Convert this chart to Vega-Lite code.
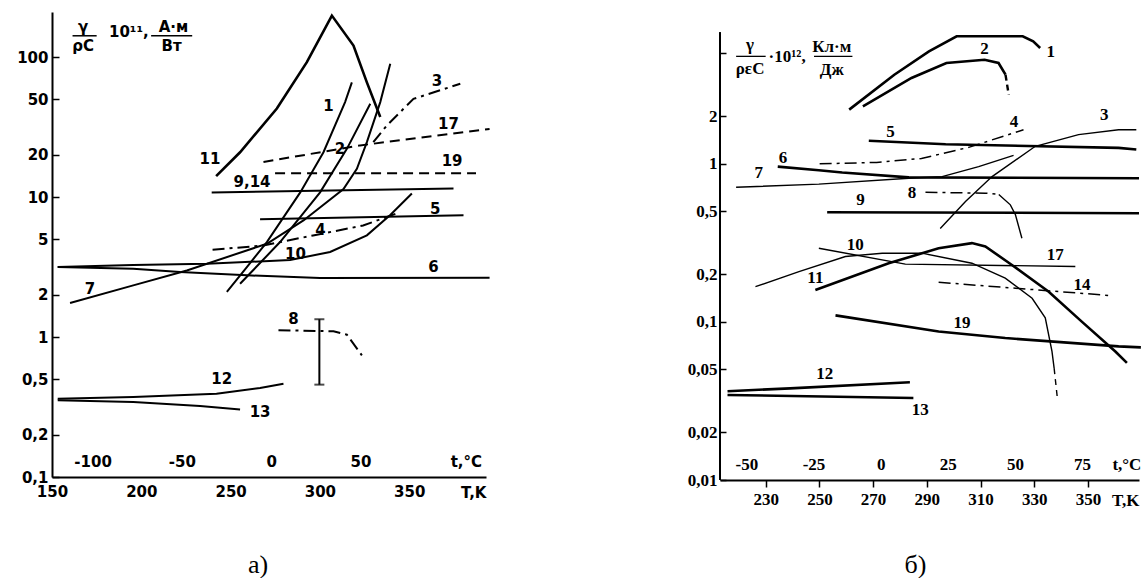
{
  "$schema": "https://vega.github.io/schema/vega-lite/v6.json",
  "background": "white",
  "padding": {"left": 16, "top": 10, "right": 0, "bottom": 0},
  "spacing": 193,
  "config": {
    "view": {"stroke": null},
    "axis": {"domainColor": "black", "tickColor": "black", "labelColor": "black", "titleColor": "black", "grid": false, "domainWidth": 2, "tickWidth": 1.5, "labelOverlap": false, "labelFlush": false}
  },
  "datasets": {
    "a": [
      {"c": "1", "T": 247.9, "v": 2.1}, {"c": "1", "T": 259.1, "v": 3.16}, {"c": "1", "T": 270.3, "v": 4.77}, {"c": "1", "T": 289, "v": 10.8}, {"c": "1", "T": 302, "v": 20.9}, {"c": "1", "T": 314.1, "v": 47.7}, {"c": "1", "T": 317.9, "v": 66},
      {"c": "2", "T": 255.3, "v": 2.4}, {"c": "2", "T": 277.7, "v": 4.77}, {"c": "2", "T": 300.1, "v": 10.8}, {"c": "2", "T": 315.1, "v": 22.1}, {"c": "2", "T": 328.2, "v": 46.4},
      {"c": "3", "T": 329.9, "v": 24.7}, {"c": "3", "T": 337.5, "v": 32.5}, {"c": "3", "T": 352.4, "v": 50.3}, {"c": "3", "T": 378.6, "v": 64.5},
      {"c": "4", "T": 239.9, "v": 4.2}, {"c": "4", "T": 268.4, "v": 4.51}, {"c": "4", "T": 296.2, "v": 5.32}, {"c": "4", "T": 324.2, "v": 6.26}, {"c": "4", "T": 344.9, "v": 7.8},
      {"c": "5", "T": 266.5, "v": 6.93}, {"c": "5", "T": 380.4, "v": 7.41},
      {"c": "6", "T": 153.2, "v": 3.16}, {"c": "6", "T": 195.5, "v": 3.08}, {"c": "6", "T": 221.7, "v": 2.91}, {"c": "6", "T": 259.1, "v": 2.76}, {"c": "6", "T": 300.1, "v": 2.64}, {"c": "6", "T": 395, "v": 2.65},
      {"c": "7", "T": 160.1, "v": 1.75}, {"c": "7", "T": 195.5, "v": 2.34}, {"c": "7", "T": 225.5, "v": 2.99}, {"c": "7", "T": 270.3, "v": 4.64}, {"c": "7", "T": 290.8, "v": 6.81}, {"c": "7", "T": 313.2, "v": 11.4}, {"c": "7", "T": 320.7, "v": 15.9}, {"c": "7", "T": 326.3, "v": 24.7}, {"c": "7", "T": 333.8, "v": 47.7}, {"c": "7", "T": 339.4, "v": 89.5},
      {"c": "8", "T": 276.8, "v": 1.12}, {"c": "8", "T": 307.6, "v": 1.1}, {"c": "8", "T": 315.1, "v": 1.04}, {"c": "8", "T": 323.5, "v": 0.74},
      {"c": "9,14", "T": 239.4, "v": 10.8}, {"c": "9,14", "T": 374.8, "v": 11.5},
      {"c": "10", "T": 153.2, "v": 3.16}, {"c": "10", "T": 195.4, "v": 3.27}, {"c": "10", "T": 236.7, "v": 3.34}, {"c": "10", "T": 283.3, "v": 3.55}, {"c": "10", "T": 305.7, "v": 4.05}, {"c": "10", "T": 326.3, "v": 5.33}, {"c": "10", "T": 339.4, "v": 7.44}, {"c": "10", "T": 351.5, "v": 10.6},
      {"c": "11", "T": 241.9, "v": 14.1}, {"c": "11", "T": 255.3, "v": 20.9}, {"c": "11", "T": 275.9, "v": 42.9}, {"c": "11", "T": 292.7, "v": 92}, {"c": "11", "T": 306.7, "v": 198}, {"c": "11", "T": 318.8, "v": 121}, {"c": "11", "T": 326.3, "v": 66}, {"c": "11", "T": 333.8, "v": 37.3},
      {"c": "12", "T": 153.2, "v": 0.363}, {"c": "12", "T": 195.5, "v": 0.373}, {"c": "12", "T": 242.1, "v": 0.394}, {"c": "12", "T": 266.5, "v": 0.432}, {"c": "12", "T": 279.6, "v": 0.464},
      {"c": "13", "T": 153.2, "v": 0.353}, {"c": "13", "T": 195.5, "v": 0.343}, {"c": "13", "T": 232.9, "v": 0.321}, {"c": "13", "T": 255.3, "v": 0.304},
      {"c": "17", "T": 268.4, "v": 17.8}, {"c": "17", "T": 322.5, "v": 23.4}, {"c": "17", "T": 395, "v": 30.7},
      {"c": "19", "T": 274.9, "v": 14.8}, {"c": "19", "T": 387.4, "v": 14.8}
    ],
    "eb": [{"T": 299.7, "v": 0.457}, {"T": 299.7, "v": 1.34}],
    "ca": [{"T": 173}, {"T": 223}, {"T": 273}, {"T": 323}],
    "la": [
      {"T": 304.8, "v": 45, "text": "1"}, {"T": 311.3, "v": 22, "text": "2"}, {"T": 365.5, "v": 68, "text": "3"}, {"T": 372, "v": 33.4, "text": "17"}, {"T": 374, "v": 18, "text": "19"}, {"T": 262, "v": 12.8, "text": "9,14"}, {"T": 364.6, "v": 8.27, "text": "5"}, {"T": 300.3, "v": 5.78, "text": "4"}, {"T": 286.3, "v": 3.93, "text": "10"}, {"T": 363.6, "v": 3.16, "text": "6"}, {"T": 171.3, "v": 2.21, "text": "7"}, {"T": 285.2, "v": 1.34, "text": "8"}, {"T": 238.5, "v": 18.7, "text": "11"}, {"T": 245, "v": 0.504, "text": "12"}, {"T": 266.5, "v": 0.29, "text": "13"},
      {"T": 167.4, "v": 164, "text": "γ"}, {"T": 167.4, "v": 121, "text": "ρC"}, {"T": 193, "v": 150, "text": "10¹¹,"}, {"T": 218, "v": 164, "text": "А·м"}, {"T": 217, "v": 121, "text": "Вт"},
      {"T": 173, "v": 0.128, "text": "-100"}, {"T": 223, "v": 0.128, "text": "-50"}, {"T": 273, "v": 0.128, "text": "0"}, {"T": 323, "v": 0.128, "text": "50"}, {"T": 382, "v": 0.128, "text": "t,°C"}
    ],
    "ba": [{"T": 161.5, "T2": 175, "v": 142}, {"T": 205.5, "T2": 228.5, "v": 142}],
    "b": [
      {"c": "1", "T": 261.1, "v": 2.2}, {"c": "1", "T": 277.9, "v": 3.66}, {"c": "1", "T": 290.8, "v": 5.14}, {"c": "1", "T": 301.1, "v": 6.4}, {"c": "1", "T": 325.7, "v": 6.4}, {"c": "1", "T": 329.6, "v": 5.95}, {"c": "1", "T": 332.2, "v": 5.4},
      {"c": "2", "T": 266.2, "v": 2.31}, {"c": "2", "T": 284.3, "v": 3.49}, {"c": "2", "T": 297.3, "v": 4.34}, {"c": "2", "T": 311.5, "v": 4.55}, {"c": "2", "T": 316.7, "v": 4.34}, {"c": "2", "T": 319.3, "v": 3.66}, {"c": "2", "T": 320.5, "v": 2.73},
      {"c": "3", "T": 295, "v": 0.39}, {"c": "3", "T": 304.4, "v": 0.577}, {"c": "3", "T": 314.3, "v": 0.83}, {"c": "3", "T": 330.4, "v": 1.29}, {"c": "3", "T": 346.5, "v": 1.53}, {"c": "3", "T": 361.4, "v": 1.64}, {"c": "3", "T": 368, "v": 1.64},
      {"c": "4", "T": 250.1, "v": 1.0}, {"c": "4", "T": 271.3, "v": 1.02}, {"c": "4", "T": 288, "v": 1.08}, {"c": "4", "T": 305.6, "v": 1.27}, {"c": "4", "T": 326, "v": 1.64},
      {"c": "5", "T": 268.4, "v": 1.4}, {"c": "5", "T": 297, "v": 1.33}, {"c": "5", "T": 361.4, "v": 1.26}, {"c": "5", "T": 368, "v": 1.23},
      {"c": "6", "T": 234.5, "v": 0.96}, {"c": "6", "T": 249.8, "v": 0.91}, {"c": "6", "T": 258.5, "v": 0.88}, {"c": "6", "T": 283.3, "v": 0.82}, {"c": "6", "T": 369, "v": 0.81},
      {"c": "7", "T": 219, "v": 0.71}, {"c": "7", "T": 249.8, "v": 0.744}, {"c": "7", "T": 283.3, "v": 0.81}, {"c": "7", "T": 295.7, "v": 0.83}, {"c": "7", "T": 309.3, "v": 0.96}, {"c": "7", "T": 322.3, "v": 1.13},
      {"c": "8", "T": 289.5, "v": 0.66}, {"c": "8", "T": 311.8, "v": 0.652}, {"c": "8", "T": 316.8, "v": 0.64}, {"c": "8", "T": 321.1, "v": 0.55}, {"c": "8", "T": 323, "v": 0.476}, {"c": "8", "T": 325.4, "v": 0.338},
      {"c": "9", "T": 252.9, "v": 0.494}, {"c": "9", "T": 369, "v": 0.487},
      {"c": "10", "T": 226.2, "v": 0.167}, {"c": "10", "T": 242.4, "v": 0.208}, {"c": "10", "T": 259.7, "v": 0.259}, {"c": "10", "T": 273.4, "v": 0.272}, {"c": "10", "T": 288.2, "v": 0.272}, {"c": "10", "T": 306.8, "v": 0.235}, {"c": "10", "T": 319.2, "v": 0.189}, {"c": "10", "T": 329.2, "v": 0.141}, {"c": "10", "T": 334.1, "v": 0.106}, {"c": "10", "T": 336.6, "v": 0.065}, {"c": "10", "T": 337.4, "v": 0.051}, {"c": "10", "T": 338.6, "v": 0.033},
      {"c": "11", "T": 248.5, "v": 0.159}, {"c": "11", "T": 275.8, "v": 0.235}, {"c": "11", "T": 294.4, "v": 0.292}, {"c": "11", "T": 306.8, "v": 0.315}, {"c": "11", "T": 311.8, "v": 0.3}, {"c": "11", "T": 321.7, "v": 0.229}, {"c": "11", "T": 335.4, "v": 0.155}, {"c": "11", "T": 347.8, "v": 0.1}, {"c": "11", "T": 360.2, "v": 0.065}, {"c": "11", "T": 364.5, "v": 0.055},
      {"c": "12", "T": 215.8, "v": 0.0364}, {"c": "12", "T": 239.1, "v": 0.038}, {"c": "12", "T": 283.7, "v": 0.0415},
      {"c": "13", "T": 215.8, "v": 0.0345}, {"c": "13", "T": 285, "v": 0.033},
      {"c": "14", "T": 294.4, "v": 0.178}, {"c": "14", "T": 357.7, "v": 0.147},
      {"c": "17", "T": 249.8, "v": 0.292}, {"c": "17", "T": 282, "v": 0.232}, {"c": "17", "T": 345.3, "v": 0.224},
      {"c": "19", "T": 256, "v": 0.11}, {"c": "19", "T": 294.4, "v": 0.087}, {"c": "19", "T": 319.2, "v": 0.079}, {"c": "19", "T": 361.4, "v": 0.07}, {"c": "19", "T": 369.7, "v": 0.069}
    ],
    "cb": [{"T": 223}, {"T": 248}, {"T": 273}, {"T": 298}, {"T": 323}, {"T": 348}],
    "lb": [
      {"T": 336.1, "v": 5.1, "text": "1"}, {"T": 311.5, "v": 5.3, "text": "2"}, {"T": 356.1, "v": 2.04, "text": "3"}, {"T": 322.5, "v": 1.85, "text": "4"}, {"T": 276.5, "v": 1.6, "text": "5"}, {"T": 236.5, "v": 1.09, "text": "6"}, {"T": 227.4, "v": 0.87, "text": "7"}, {"T": 284.5, "v": 0.65, "text": "8"}, {"T": 265.3, "v": 0.59, "text": "9"}, {"T": 263.4, "v": 0.307, "text": "10"}, {"T": 248.5, "v": 0.189, "text": "11"}, {"T": 337.8, "v": 0.266, "text": "17"}, {"T": 347.8, "v": 0.171, "text": "14"}, {"T": 303.1, "v": 0.098, "text": "19"}, {"T": 252, "v": 0.0465, "text": "12"}, {"T": 287.6, "v": 0.0277, "text": "13"},
      {"T": 224.2, "v": 5.6, "text": "γ"}, {"T": 224.2, "v": 4.0, "text": "ρεC"}, {"T": 238, "v": 4.75, "text": "·10¹²,"}, {"T": 254.6, "v": 5.5, "text": "Кл·м"}, {"T": 254.6, "v": 3.94, "text": "Дж"},
      {"T": 223, "v": 0.0124, "text": "-50"}, {"T": 248, "v": 0.0124, "text": "-25"}, {"T": 273, "v": 0.0124, "text": "0"}, {"T": 298, "v": 0.0124, "text": "25"}, {"T": 323, "v": 0.0124, "text": "50"}, {"T": 348, "v": 0.0124, "text": "75"}, {"T": 364.5, "v": 0.0124, "text": "t,°C"}
    ],
    "bb": [{"T": 219, "T2": 230, "v": 4.78}, {"T": 248, "T2": 262.3, "v": 4.78}]
  },
  "hconcat": [
    {
      "width": 434,
      "height": 465,
      "title": {"text": "а)", "orient": "bottom", "frame": "group", "dx": -11, "offset": 52, "font": "Liberation Serif", "fontSize": 26, "fontWeight": "normal", "color": "black"},
      "encoding": {
        "x": {"field": "T", "type": "quantitative", "scale": {"domain": [150, 393], "nice": false, "zero": false},
          "axis": {"values": [150, 200, 250, 300, 350], "ticks": false, "labelPadding": 7, "labelFont": "DejaVu Sans", "labelFontWeight": "bold", "labelFontSize": 15, "title": "T,K", "titleX": 434, "titleY": 15, "titleAlign": "right", "titleBaseline": "middle", "titleFont": "DejaVu Sans", "titleFontWeight": "bold", "titleFontSize": 15}},
        "y": {"field": "v", "type": "quantitative", "scale": {"type": "log", "domain": [0.1, 210], "nice": false},
          "axis": {"values": [0.1, 0.2, 0.5, 1, 2, 5, 10, 20, 50, 100], "labelExpr": "replace(toString(datum.value), '.', ',')", "title": null, "tickSize": -7, "labelPadding": 11, "labelFont": "DejaVu Sans", "labelFontWeight": "bold", "labelFontSize": 15}}
      },
      "layer": [
        {"data": {"name": "a"}, "transform": [{"filter": "indexof(['1','2','5','6','7','9,14','10','12','13'], datum.c) >= 0"}], "mark": {"type": "line", "color": "black", "strokeWidth": 2}, "encoding": {"detail": {"field": "c"}}},
        {"data": {"name": "a"}, "transform": [{"filter": "datum.c == '11'"}], "mark": {"type": "line", "color": "black", "strokeWidth": 2.6}, "encoding": {"detail": {"field": "c"}}},
        {"data": {"name": "a"}, "transform": [{"filter": "datum.c == '17' || datum.c == '19'"}], "mark": {"type": "line", "color": "black", "strokeWidth": 2, "strokeDash": [10, 6]}, "encoding": {"detail": {"field": "c"}}},
        {"data": {"name": "a"}, "transform": [{"filter": "datum.c == '3' || datum.c == '4' || datum.c == '8'"}], "mark": {"type": "line", "color": "black", "strokeWidth": 2, "strokeDash": [12, 5, 3, 5]}, "encoding": {"detail": {"field": "c"}}},
        {"data": {"name": "eb"}, "mark": {"type": "line", "color": "black", "strokeWidth": 2}, "encoding": {}},
        {"data": {"name": "eb"}, "mark": {"type": "tick", "orient": "horizontal", "color": "black", "size": 10, "thickness": 2}},
        {"data": {"name": "ca"}, "mark": {"type": "rule", "color": "black", "strokeWidth": 1.5}, "encoding": {"y": {"datum": 0.1}, "y2": {"datum": 0.108}}},
        {"data": {"name": "ba"}, "mark": {"type": "rule", "color": "black", "strokeWidth": 1.5}, "encoding": {"x2": {"field": "T2"}}},
        {"data": {"name": "la"}, "mark": {"type": "text", "color": "black", "font": "DejaVu Sans", "fontWeight": "bold", "fontSize": 15, "align": "center", "baseline": "middle"}, "encoding": {"text": {"field": "text"}}}
      ]
    },
    {
      "width": 419,
      "height": 468,
      "title": {"text": "б)", "orient": "bottom", "frame": "group", "dx": -14, "offset": 44, "font": "Liberation Serif", "fontSize": 26, "fontWeight": "normal", "color": "black"},
      "encoding": {
        "x": {"field": "T", "type": "quantitative", "scale": {"domain": [213, 369], "nice": false, "zero": false},
          "axis": {"values": [230, 250, 270, 290, 310, 330, 350], "tickSize": 7, "labelPadding": 4, "labelFont": "Liberation Serif", "labelFontWeight": "bold", "labelFontSize": 17, "title": "T,K", "titleX": 419, "titleY": 20, "titleAlign": "right", "titleBaseline": "middle", "titleFont": "Liberation Serif", "titleFontWeight": "bold", "titleFontSize": 17}},
        "y": {"field": "v", "type": "quantitative", "scale": {"type": "log", "domain": [0.01, 9.12], "nice": false},
          "axis": {"values": [0.01, 0.02, 0.05, 0.1, 0.2, 0.5, 1, 2, 5], "labelExpr": "datum.value == 5 ? '' : replace(toString(datum.value), '.', ',')", "title": null, "domain": false, "tickSize": -6, "labelPadding": 9, "labelFont": "Liberation Serif", "labelFontWeight": "bold", "labelFontSize": 17}}
      },
      "layer": [
        {"data": {"name": "bb"}, "mark": {"type": "rule", "color": "black", "strokeWidth": 2}, "encoding": {"x": {"datum": 213}, "y": {"datum": 0.01}, "y2": {"datum": 6.8}}},
        {"data": {"name": "b"}, "transform": [{"filter": "indexof(['1','5','6','9','11','12','13','19'], datum.c) >= 0 || (datum.c == '2' && datum.T <= 319.3)"}], "mark": {"type": "line", "color": "black", "strokeWidth": 2.6}, "encoding": {"detail": {"field": "c"}}},
        {"data": {"name": "b"}, "transform": [{"filter": "datum.c == '2' && datum.T >= 319.3"}], "mark": {"type": "line", "color": "black", "strokeWidth": 2.4, "strokeDash": [6, 4]}, "encoding": {"detail": {"field": "c"}}},
        {"data": {"name": "b"}, "transform": [{"filter": "indexof(['3','7','17'], datum.c) >= 0 || (datum.c == '10' && datum.T <= 337.4) || (datum.c == '8' && datum.T >= 316.8)"}], "mark": {"type": "line", "color": "black", "strokeWidth": 1.4}, "encoding": {"detail": {"field": "c"}}},
        {"data": {"name": "b"}, "transform": [{"filter": "datum.c == '10' && datum.T >= 337.4"}], "mark": {"type": "line", "color": "black", "strokeWidth": 1.4, "strokeDash": [6, 5]}, "encoding": {"detail": {"field": "c"}}},
        {"data": {"name": "b"}, "transform": [{"filter": "datum.c == '4' || datum.c == '14' || (datum.c == '8' && datum.T <= 316.8)"}], "mark": {"type": "line", "color": "black", "strokeWidth": 1.5, "strokeDash": [12, 5, 3, 5]}, "encoding": {"detail": {"field": "c"}}},
        {"data": {"name": "cb"}, "mark": {"type": "rule", "color": "black", "strokeWidth": 1.5}, "encoding": {"y": {"datum": 0.01}, "y2": {"datum": 0.0109}}},
        {"data": {"name": "bb"}, "mark": {"type": "rule", "color": "black", "strokeWidth": 1.3}, "encoding": {"x2": {"field": "T2"}}},
        {"data": {"name": "lb"}, "mark": {"type": "text", "color": "black", "font": "Liberation Serif", "fontWeight": "bold", "fontSize": 17, "align": "center", "baseline": "middle"}, "encoding": {"text": {"field": "text"}}}
      ]
    }
  ]
}
